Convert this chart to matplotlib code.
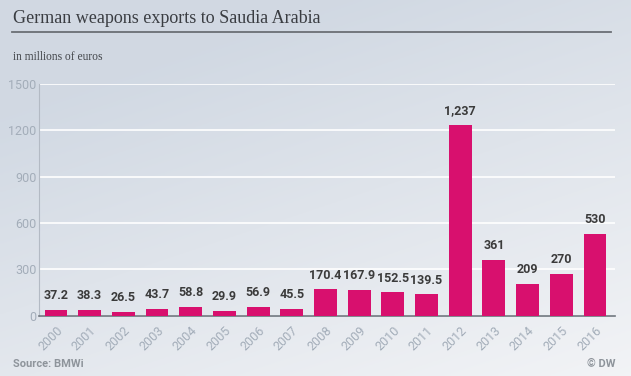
import matplotlib.pyplot as plt
import numpy as np
from matplotlib import font_manager

years = [str(y) for y in range(2000, 2017)]
exports = [37.2, 38.3, 26.5, 43.7, 58.8, 29.9, 56.9, 45.5, 170.4, 167.9,
           152.5, 139.5, 1237, 361, 209, 270, 530]
value_labels = ["37.2", "38.3", "26.5", "43.7", "58.8", "29.9", "56.9", "45.5",
                "170.4", "167.9", "152.5", "139.5", "1,237", "361", "209", "270", "530"]
yticks = [0, 300, 600, 900, 1200, 1500]

names = {f.name for f in font_manager.fontManager.ttflist}
narrow = "Liberation Sans Narrow" if "Liberation Sans Narrow" in names else "Roboto"

fig = plt.figure(figsize=(6.31, 3.76), dpi=100)

# background gradient, darker at top left
bg = fig.add_axes([0, 0, 1, 1], zorder=-10)
gx, gy = np.meshgrid(np.linspace(0, 1, 200), np.linspace(0, 1, 200))
grad = np.clip(0.45 * (1 - gx) + 0.8 * (1 - gy), 0, 1)
top = np.array([0.82, 0.85, 0.89])
bot = np.array([0.95, 0.955, 0.965])
img = bot + (top - bot) * grad[..., None]
bg.imshow(img, aspect="auto", extent=[0, 1, 0, 1], origin="upper")
bg.axis("off")

fig.text(0.021, 0.952, "German weapons exports to Saudia Arabia", fontsize=13,
         family="Liberation Serif", color="#3a3d42", va="center")
fig.add_artist(plt.Line2D([0.019, 0.969], [0.914, 0.914], color="#6b6f75", lw=1.3))
fig.text(0.021, 0.848, "in millions of euros", fontsize=8.3, family="Liberation Serif",
         color="#44474c", va="center")

ax = fig.add_axes([0.062, 0.16, 0.913, 0.617])
ax.patch.set_alpha(0)
x = np.arange(len(years))
ax.bar(x, exports, width=0.68, color="#d8106e", zorder=3)
for xi, v, lab in zip(x, exports, value_labels):
    ax.text(xi, v + 50, lab, ha="center", va="bottom", fontsize=9,
            fontweight="bold", color="#3b3b3b", family=narrow)

ax.set_ylim(0, 1500)
ax.set_xlim(-0.5, len(years) - 0.4)
ax.set_yticks(yticks)
ax.set_yticklabels([str(t) for t in yticks], family=narrow)
ax.yaxis.grid(True, color="white", lw=1.2, zorder=0)
ax.set_xticks(x)
ax.set_xticklabels(years, rotation=45, ha="right", rotation_mode="anchor", family=narrow)
ax.tick_params(axis="x", length=0, pad=6, labelsize=9, labelcolor="#a3adb9")
ax.tick_params(axis="y", length=0, pad=2, labelsize=9, labelcolor="#a3adb9")
for s in ["top", "right"]:
    ax.spines[s].set_visible(False)
ax.spines["left"].set_color("#b3bac4")
ax.spines["bottom"].set_color("#6f767e")
ax.spines["bottom"].set_linewidth(1.2)

fig.text(0.021, 0.025, "Source: BMWi", fontsize=8, fontweight="bold", color="#8e949b",
         family=narrow)
fig.text(0.976, 0.025, "© DW", fontsize=8, fontweight="bold", color="#8e949b", ha="right",
         family=narrow)

fig.savefig("out.png", dpi=100)
